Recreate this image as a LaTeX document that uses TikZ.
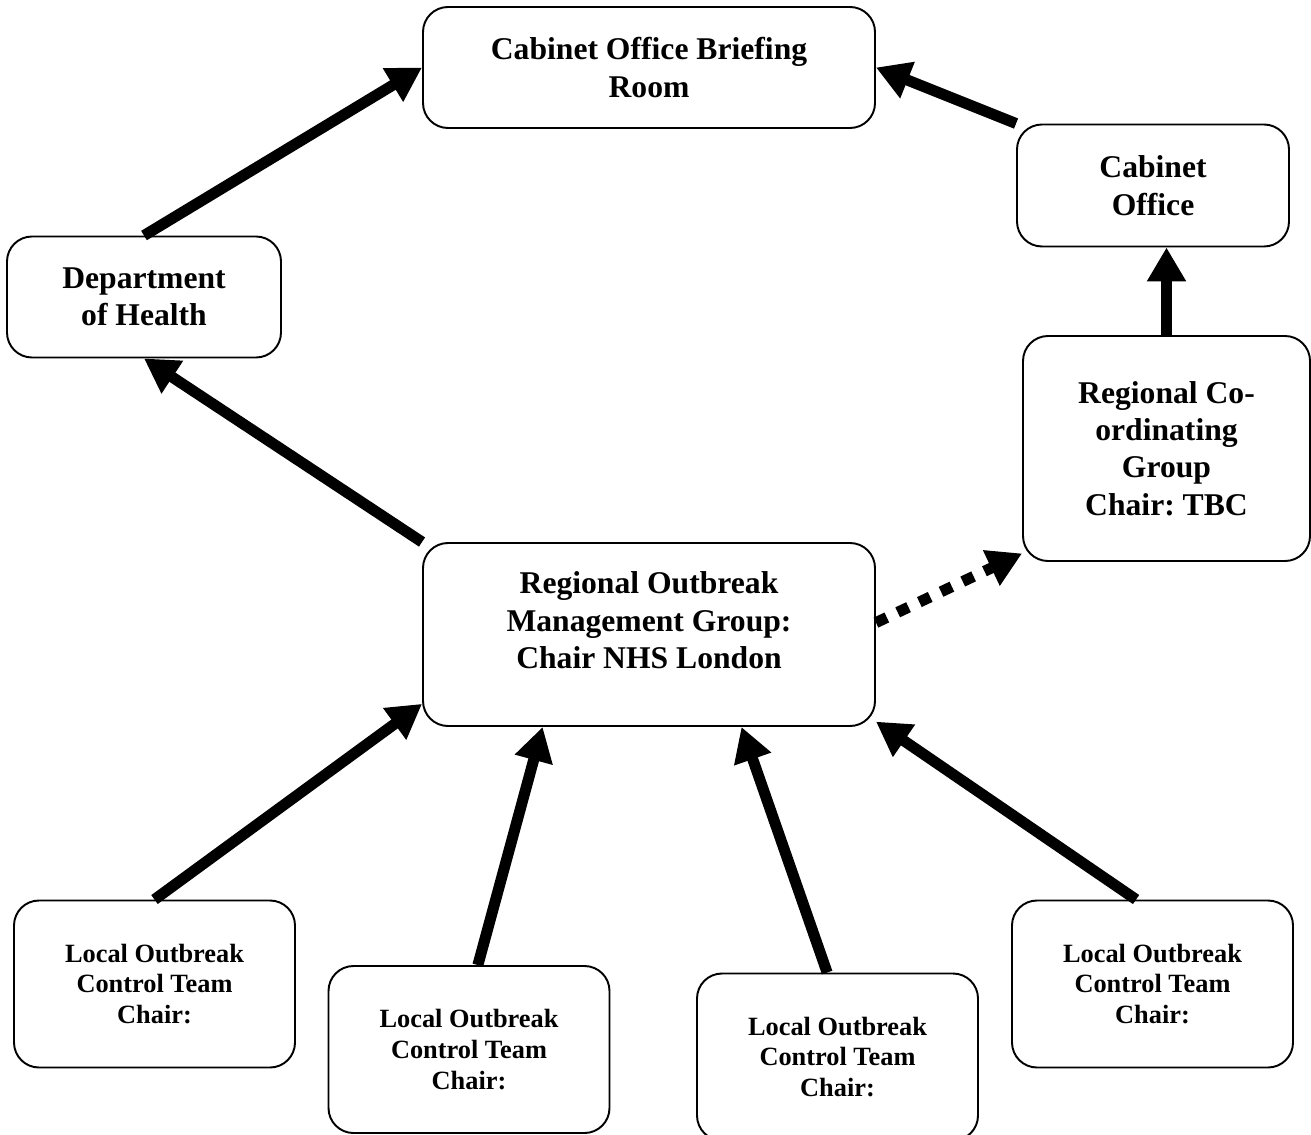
\documentclass[tikz,border=0pt]{standalone}
\usepackage{fontspec}
\setmainfont{Liberation Serif}
\usepackage{tikz}
\usetikzlibrary{positioning,calc,arrows.meta}
\tikzset{
  grp/.style={draw,line width=1.1pt,rounded corners=0.5cm,align=center,inner sep=0pt,font=\fontsize{18}{21.3}\selectfont\bfseries},
  lct/.style={grp,font=\fontsize{15}{17.6}\selectfont\bfseries,minimum width=5.62cm,minimum height=3.34cm},
  grptxt/.style={align=center,inner sep=0pt,font=\fontsize{18}{21.3}\selectfont\bfseries},
  feed/.style={-{Triangle[length=0.68cm,width=0.74cm]},line width=0.22cm},
  tbc/.style={feed,dash pattern=on 0.24cm off 0.24cm},
}
\frenchspacing
\begin{document}
\begin{tikzpicture}
  \useasboundingbox (0,0) rectangle (26.22,-22.70);
  % top level
  \node[grp,minimum width=9.04cm,minimum height=2.42cm] (cobr) at (12.98,-1.35) {Cabinet Office Briefing\\Room};
  \node[grp,minimum width=5.44cm,minimum height=2.44cm] (co) at (23.06,-3.71) {Cabinet\\Office};
  \node[grp,minimum width=5.48cm,minimum height=2.42cm] (doh) at (2.88,-5.94) {Department\\of Health};
  \node[grp,minimum width=5.74cm,minimum height=4.50cm] (rcg) at (23.33,-8.97) {Regional Co-\\ordinating\\Group\\Chair: TBC};
  % regional group
  \node[grp,minimum width=9.04cm,minimum height=3.66cm] (romg) at (12.98,-12.69) {};
  \node[grptxt] (romgtxt) at ($(romg)+(0,0.28)$) {Regional Outbreak\\Management Group:\\Chair NHS London};
  % local teams
  \node[lct] (l1) at (3.09,-19.68) {Local Outbreak\\Control Team\\Chair:};
  \node[lct] (l2) at (9.38,-20.99) {Local Outbreak\\Control Team\\Chair:};
  \node[lct] (l3) at (16.75,-21.14) {Local Outbreak\\Control Team\\Chair:};
  \node[lct] (l4) at (23.05,-19.68) {Local Outbreak\\Control Team\\Chair:};
  % reporting lines
  \draw[feed] (doh.north) -- (cobr.west);
  \draw[feed] (co.north west) -- (cobr.east);
  \draw[feed] (rcg.north) -- (rcg.north |- co.south);
  \draw[feed] (romg.north west) -- (doh.south);
  \draw[tbc] (romg.3) -- (rcg.216);
  \foreach \s/\t in {l1.north/romg.197,l2.84/romg.221,l3.97/romg.315,l4.101/romg.339}
    \draw[feed] (\s) -- (\t);
\end{tikzpicture}
\end{document}
